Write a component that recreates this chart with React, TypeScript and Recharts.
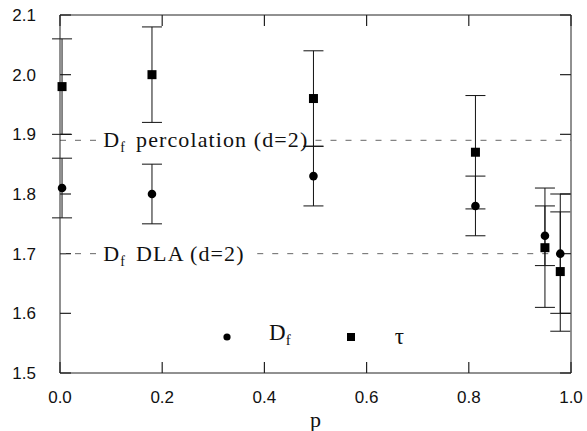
import React from 'react';
import {
  ErrorBar,
  ReferenceLine,
  Scatter,
  ScatterChart,
  XAxis,
  YAxis,
} from 'recharts';

// values
const pValues = [0.004, 0.18, 0.496, 0.813, 0.949, 0.979];
const dfValues = [1.81, 1.8, 1.83, 1.78, 1.73, 1.7];
const dfErrors = [0.05, 0.05, 0.05, 0.05, 0.05, 0.1];
const tauValues = [1.98, 2.0, 1.96, 1.87, 1.71, 1.67];
const tauErrors = [0.08, 0.08, 0.08, 0.095, 0.1, 0.1];

const xTicks = [0, 0.2, 0.4, 0.6, 0.8, 1.0];
const yTicks = [1.5, 1.6, 1.7, 1.8, 1.9, 2.0, 2.1];

const percolationDf = 1.89;
const dlaDf = 1.7;

const dfData = pValues.map((p, i) => ({ p, v: dfValues[i], err: dfErrors[i] }));
const tauData = pValues.map((p, i) => ({ p, v: tauValues[i], err: tauErrors[i] }));

const W = 587;
const H = 431;
const X_MIN = 0;
const X_MAX = 1;
const Y_MIN = 1.5;
const Y_MAX = 2.1;
// inward tick length (~11px) in data units
const TICK_DX = 0.0215;
const TICK_DY = 0.0184;
const SANS = '"Liberation Sans", Arial, sans-serif';
const SERIF = '"Liberation Serif", "Times New Roman", serif';
const AXIS = '#222';

const LeftTick = (props: any) => {
  const { x, y, payload } = props;
  return (
    <text x={x} y={y} dy="0.36em" textAnchor="end" fontFamily={SANS} fontSize={17} fill="#111">
      {payload.value.toFixed(1)}
    </text>
  );
};

const BottomTick = (props: any) => {
  const { x, y, payload } = props;
  return (
    <text x={x} y={y} dy="0.71em" textAnchor="middle" fontFamily={SANS} fontSize={17} fill="#111">
      {payload.value.toFixed(1)}
    </text>
  );
};

const NoLabel = () => <g />;

const dfLabel = (rest: string) => (props: any) => {
  const { viewBox } = props;
  const x = viewBox.x + viewBox.width + 4;
  const y = viewBox.y + 7;
  return (
    <text x={x} y={y} fontFamily={SERIF} fontSize={22} fill="#111" letterSpacing={1.1}>
      <tspan>D</tspan>
      <tspan dy={5} fontSize={14}>f</tspan>
      <tspan dy={-5} dx={10}>{rest}</tspan>
    </text>
  );
};

const Dot = (props: any) => <circle cx={props.cx} cy={props.cy} r={4.3} fill="#000" />;
const Box = (props: any) => (
  <rect x={props.cx - 4.5} y={props.cy - 4.5} width={9} height={9} fill="#000" />
);

const dashed = { stroke: '#666', strokeDasharray: '6 9' };

const tickSegments = [
  ...yTicks.map((t) => [{ x: X_MIN, y: t }, { x: X_MIN + TICK_DX, y: t }]),
  ...yTicks.map((t) => [{ x: X_MAX - TICK_DX, y: t }, { x: X_MAX, y: t }]),
  ...xTicks.map((t) => [{ x: t, y: Y_MIN }, { x: t, y: Y_MIN + TICK_DY }]),
  ...xTicks.map((t) => [{ x: t, y: Y_MAX - TICK_DY }, { x: t, y: Y_MAX }]),
];

export default function App() {
  return (
    <div style={{ position: 'absolute', left: 0, top: 0, width: W, height: H, background: '#fff' }}>
      <ScatterChart width={W} height={H} margin={{ top: 14, right: 15, bottom: 0, left: 0 }}>
        <XAxis
          xAxisId="b"
          type="number"
          dataKey="p"
          domain={[X_MIN, X_MAX]}
          ticks={xTicks}
          height={58}
          stroke={AXIS}
          tickLine={false}
          tickSize={0}
          tickMargin={18}
          tick={<BottomTick />}
          label={{ value: 'p', position: 'insideBottom', offset: 4, fontFamily: SERIF, fontSize: 22, fill: '#111' }}
        />
        <XAxis
          xAxisId="t"
          orientation="top"
          type="number"
          dataKey="p"
          domain={[X_MIN, X_MAX]}
          ticks={xTicks}
          height={1}
          stroke={AXIS}
          tickLine={false}
          tickSize={0}
          tick={<NoLabel />}
        />
        <YAxis
          yAxisId="l"
          type="number"
          dataKey="v"
          domain={[Y_MIN, Y_MAX]}
          ticks={yTicks}
          width={60}
          stroke={AXIS}
          tickLine={false}
          tickSize={0}
          tickMargin={24}
          tick={<LeftTick />}
        />
        <YAxis
          yAxisId="r"
          orientation="right"
          type="number"
          dataKey="v"
          domain={[Y_MIN, Y_MAX]}
          ticks={yTicks}
          width={1}
          stroke={AXIS}
          tickLine={false}
          tickSize={0}
          tick={<NoLabel />}
        />

        {/* inward tick marks on all four sides */}
        {tickSegments.map((seg, i) => (
          <ReferenceLine
            key={`tick-${i}`}
            xAxisId="b"
            yAxisId="l"
            segment={seg}
            ifOverflow="visible"
            stroke={AXIS}
            strokeWidth={1.2}
          />
        ))}

        <ReferenceLine
          xAxisId="b"
          yAxisId="l"
          segment={[{ x: 0, y: percolationDf }, { x: 0.077, y: percolationDf }]}
          {...dashed}
          label={{ content: dfLabel('percolation (d=2)') }}
        />
        <ReferenceLine
          xAxisId="b"
          yAxisId="l"
          segment={[{ x: 0.5, y: percolationDf }, { x: 1, y: percolationDf }]}
          {...dashed}
        />
        <ReferenceLine
          xAxisId="b"
          yAxisId="l"
          segment={[{ x: 0, y: dlaDf }, { x: 0.077, y: dlaDf }]}
          {...dashed}
          label={{ content: dfLabel('DLA (d=2)') }}
        />
        <ReferenceLine
          xAxisId="b"
          yAxisId="l"
          segment={[{ x: 0.386, y: dlaDf }, { x: 1, y: dlaDf }]}
          {...dashed}
        />

        <Scatter
          name="tau"
          data={tauData}
          xAxisId="b"
          yAxisId="l"
          shape={<Box />}
          isAnimationActive={false}
        >
          <ErrorBar dataKey="err" direction="y" width={10} stroke="#111" strokeWidth={1} />
        </Scatter>
        <Scatter
          name="Df"
          data={dfData}
          xAxisId="b"
          yAxisId="l"
          shape={<Dot />}
          isAnimationActive={false}
        >
          <ErrorBar dataKey="err" direction="y" width={10} stroke="#111" strokeWidth={1} />
        </Scatter>
        <Scatter data={dfData} xAxisId="t" yAxisId="r" shape={() => <g />} isAnimationActive={false} />
      </ScatterChart>

      <div
        style={{
          position: 'absolute',
          left: 220,
          top: 318,
          display: 'flex',
          alignItems: 'center',
          fontFamily: SERIF,
          fontSize: 23,
          color: '#111',
          lineHeight: '30px',
        }}
      >
        <svg width={14} height={14}>
          <circle cx={7} cy={7} r={3.6} fill="#000" />
        </svg>
        <span style={{ marginLeft: 35 }}>
          D<sub style={{ fontSize: 15, verticalAlign: -5 }}>f</sub>
        </span>
        <svg width={14} height={14} style={{ marginLeft: 53 }}>
          <rect x={3} y={3} width={8} height={8} fill="#000" />
        </svg>
        <span style={{ marginLeft: 37 }}>τ</span>
      </div>
    </div>
  );
}
